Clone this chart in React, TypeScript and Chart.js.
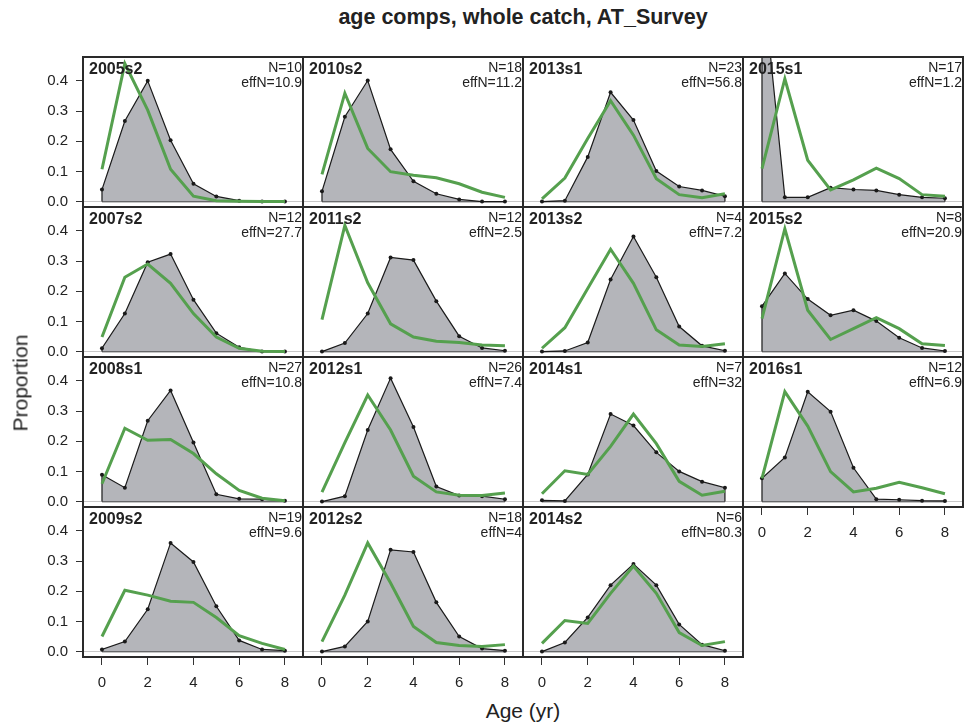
import React, { useEffect, useRef } from "react";
import { Chart, registerables } from "chart.js";
Chart.register(...registerables);

const ages = [0, 1, 2, 3, 4, 5, 6, 7, 8];
const xTicks = [0, 2, 4, 6, 8];
const yTicks = [0, 0.1, 0.2, 0.3, 0.4];

const panelLabels = ["2005s2", "2007s2", "2008s1", "2009s2", "2010s2", "2011s2", "2012s1", "2012s2", "2013s1", "2013s2", "2014s1", "2014s2", "2015s1", "2015s2", "2016s1"];
const sampleN = [10, 12, 27, 19, 18, 12, 26, 18, 23, 4, 7, 6, 17, 8, 12];
const effN = ["10.9", "27.7", "10.8", "9.6", "11.2", "2.5", "7.4", "4", "56.8", "7.2", "32", "80.3", "1.2", "20.9", "6.9"];

const obs_2005s2 = [0.04, 0.267, 0.4, 0.203, 0.059, 0.017, 0.003, 0, 0];
const exp_2005s2 = [0.107, 0.457, 0.303, 0.107, 0.018, 0.003, 0.001, 0, 0];
const obs_2007s2 = [0.011, 0.126, 0.296, 0.323, 0.172, 0.061, 0.014, 0, 0];
const exp_2007s2 = [0.048, 0.246, 0.29, 0.226, 0.126, 0.048, 0.011, 0.001, 0];
const obs_2008s1 = [0.089, 0.046, 0.268, 0.368, 0.196, 0.024, 0.009, 0.008, 0.003];
const exp_2008s1 = [0.059, 0.243, 0.203, 0.206, 0.159, 0.092, 0.037, 0.011, 0.003];
const obs_2009s2 = [0.007, 0.033, 0.14, 0.36, 0.297, 0.15, 0.037, 0.007, 0.003];
const exp_2009s2 = [0.05, 0.203, 0.187, 0.167, 0.163, 0.113, 0.053, 0.027, 0.007];
const obs_2010s2 = [0.034, 0.281, 0.401, 0.173, 0.067, 0.026, 0.007, 0, 0];
const exp_2010s2 = [0.09, 0.359, 0.176, 0.099, 0.087, 0.079, 0.059, 0.031, 0.014];
const obs_2011s2 = [0, 0.028, 0.126, 0.312, 0.303, 0.167, 0.051, 0.012, 0.003];
const exp_2011s2 = [0.106, 0.418, 0.228, 0.092, 0.048, 0.034, 0.03, 0.022, 0.019];
const obs_2012s1 = [0, 0.018, 0.237, 0.409, 0.247, 0.05, 0.02, 0.018, 0.008];
const exp_2012s1 = [0.031, 0.195, 0.353, 0.237, 0.084, 0.032, 0.021, 0.02, 0.028];
const obs_2012s2 = [0, 0.017, 0.1, 0.337, 0.33, 0.163, 0.05, 0.01, 0.003];
const exp_2012s2 = [0.033, 0.187, 0.36, 0.227, 0.083, 0.03, 0.02, 0.017, 0.023];
const obs_2013s1 = [0, 0.003, 0.148, 0.362, 0.27, 0.101, 0.05, 0.037, 0.018];
const exp_2013s1 = [0.009, 0.078, 0.209, 0.334, 0.22, 0.076, 0.023, 0.013, 0.026];
const obs_2013s2 = [0, 0.002, 0.03, 0.239, 0.381, 0.246, 0.083, 0.019, 0.003];
const exp_2013s2 = [0.011, 0.079, 0.209, 0.339, 0.226, 0.072, 0.022, 0.017, 0.026];
const obs_2014s1 = [0.004, 0.002, 0.09, 0.29, 0.252, 0.163, 0.1, 0.066, 0.046];
const exp_2014s1 = [0.026, 0.102, 0.09, 0.183, 0.29, 0.192, 0.067, 0.021, 0.034];
const obs_2014s2 = [0, 0.03, 0.113, 0.22, 0.29, 0.22, 0.09, 0.023, 0.003];
const exp_2014s2 = [0.027, 0.103, 0.093, 0.193, 0.283, 0.193, 0.063, 0.02, 0.033];
const obs_2015s1 = [0.76, 0.014, 0.014, 0.046, 0.04, 0.037, 0.023, 0.014, 0.011];
const exp_2015s1 = [0.109, 0.407, 0.137, 0.039, 0.072, 0.111, 0.076, 0.023, 0.018];
const obs_2015s2 = [0.15, 0.259, 0.174, 0.12, 0.137, 0.101, 0.046, 0.012, 0.002];
const exp_2015s2 = [0.109, 0.407, 0.137, 0.04, 0.076, 0.112, 0.076, 0.026, 0.02];
const obs_2016s1 = [0.077, 0.146, 0.364, 0.298, 0.112, 0.008, 0.006, 0.003, 0.002];
const exp_2016s1 = [0.077, 0.364, 0.25, 0.099, 0.032, 0.044, 0.064, 0.046, 0.026];

const observed = [obs_2005s2, obs_2007s2, obs_2008s1, obs_2009s2, obs_2010s2, obs_2011s2, obs_2012s1, obs_2012s2, obs_2013s1, obs_2013s2, obs_2014s1, obs_2014s2, obs_2015s1, obs_2015s2, obs_2016s1];
const expected = [exp_2005s2, exp_2007s2, exp_2008s1, exp_2009s2, exp_2010s2, exp_2011s2, exp_2012s1, exp_2012s2, exp_2013s1, exp_2013s2, exp_2014s1, exp_2014s2, exp_2015s1, exp_2015s2, exp_2016s1];

const FONT = "'Liberation Sans', Arial, Helvetica, sans-serif";
const TEXT = "#222222";
const GREEN = "#55a04e";
const FILL = "#b4b5ba";
const LINE = "#1a1a1a";

const PANEL_W = 220;
const PANEL_H = 150;
const ORIGIN_X = 83;
const ORIGIN_Y = 57;
const LEFT_AXIS = 83;
const BOTTOM_AXIS = 40;

const framePlugin = {
  id: "frame",
  afterDraw(chart: any) {
    const { ctx, chartArea: a } = chart;
    ctx.save();
    ctx.strokeStyle = "#2a2a2a";
    ctx.lineWidth = 2;
    ctx.strokeRect(a.left, a.top, a.right - a.left, a.bottom - a.top);
    ctx.restore();
  },
};

function geometry(idx: number) {
  const col = Math.floor(idx / 4);
  const row = idx % 4;
  const isLeft = col === 0;
  const isBottom = row === 3 || idx === panelLabels.length - 1;
  const left = ORIGIN_X + col * PANEL_W;
  const top = ORIGIN_Y + row * PANEL_H;
  return { col, row, isLeft, isBottom, left, top };
}

function Panel({ idx }: { idx: number }) {
  const ref = useRef<HTMLCanvasElement | null>(null);
  const g = geometry(idx);
  const padL = g.isLeft ? LEFT_AXIS : 2;
  const padB = g.isBottom ? BOTTOM_AXIS : 2;
  const cw = padL + PANEL_W + 2;
  const ch = 2 + PANEL_H + padB;

  useEffect(() => {
    const obs = observed[idx];
    const exp = expected[idx];
    const n = ages.length;
    const polygon = [
      { x: ages[0], y: 0 },
      ...ages.map((a, i) => ({ x: a, y: obs[i] })),
      { x: ages[n - 1], y: 0 },
    ];
    const baseline = [
      { x: ages[0], y: 0 },
      { x: ages[n - 1], y: 0 },
    ];
    const chart = new Chart(ref.current as HTMLCanvasElement, {
      type: "line",
      data: {
        datasets: [
          {
            label: "expected",
            data: ages.map((a, i) => ({ x: a, y: exp[i] })),
            borderColor: GREEN,
            borderWidth: 3,
            pointRadius: 0,
            fill: false,
            tension: 0,
            order: 0,
          } as any,
          {
            label: "observed",
            data: polygon,
            borderColor: LINE,
            borderWidth: 1.2,
            backgroundColor: FILL,
            fill: "origin",
            tension: 0,
            pointRadius: (c: any) => (c.dataIndex === 0 || c.dataIndex > n ? 0 : 2),
            pointBackgroundColor: LINE,
            pointBorderWidth: 0,
            order: 1,
          } as any,
          {
            label: "base",
            data: baseline,
            borderColor: LINE,
            borderWidth: 1.2,
            pointRadius: 0,
            fill: false,
            order: 2,
          } as any,
        ],
      },
      options: {
        animation: false,
        responsive: false,
        devicePixelRatio: 1,
        events: [],
        layout: {
          autoPadding: false,
          padding: { left: g.isLeft ? 0 : 2, right: 2, top: 2, bottom: g.isBottom ? 0 : 2 },
        },
        plugins: { legend: { display: false }, tooltip: { enabled: false }, title: { display: false }, filler: { propagate: false } },
        scales: {
          x: {
            type: "linear",
            min: -0.83,
            max: 8.79,
            display: g.isBottom,
            afterBuildTicks: (s: any) => {
              s.ticks = xTicks.map((v) => ({ value: v }));
            },
            afterFit: (s: any) => {
              s.height = g.isBottom ? BOTTOM_AXIS : 0;
              s.paddingLeft = 0;
              s.paddingRight = 0;
            },
            grid: { drawOnChartArea: false, drawTicks: true, tickLength: 8, tickColor: "#333333", tickWidth: 1 },
            border: { display: false },
            ticks: { font: { family: FONT, size: 15 }, color: TEXT, padding: 9, maxRotation: 0, autoSkip: false },
          },
          y: {
            type: "linear",
            min: -0.018,
            max: 0.479,
            afterBuildTicks: (s: any) => {
              s.ticks = yTicks.map((v) => ({ value: v }));
            },
            afterFit: (s: any) => {
              s.width = g.isLeft ? LEFT_AXIS : 0;
              s.paddingTop = 0;
              s.paddingBottom = 0;
            },
            grid: {
              color: (c: any) => (c.tick && c.tick.value === 0 ? "#c8c8c8" : "rgba(0,0,0,0)"),
              lineWidth: 1,
              drawTicks: g.isLeft,
              tickLength: 7,
              tickColor: "#333333",
            },
            border: { display: false },
            ticks: {
              display: g.isLeft,
              font: { family: FONT, size: 15 },
              color: TEXT,
              padding: 8,
              callback: (v: any) => Number(v).toFixed(1),
            },
          },
        },
      } as any,
      plugins: [framePlugin],
    });
    return () => chart.destroy();
  }, [idx]);

  return (
    <canvas
      ref={ref}
      width={cw}
      height={ch}
      style={{ position: "absolute", left: g.left - padL, top: g.top - 2, width: cw, height: ch }}
    />
  );
}

function textTop(baseline: number, size: number) {
  return baseline - 0.8465 * size;
}

function PanelText({ idx }: { idx: number }) {
  const g = geometry(idx);
  const right = 967 - (g.left + PANEL_W - 1);
  return (
    <>
      <div style={{ position: "absolute", left: g.left + 6, top: textTop(g.top + 18, 16), font: `bold 16px/16px ${FONT}`, color: TEXT, whiteSpace: "nowrap" }}>
        {panelLabels[idx]}
      </div>
      <div style={{ position: "absolute", right, top: textTop(g.top + 14.5, 14), font: `14px/14px ${FONT}`, color: TEXT, whiteSpace: "nowrap", textAlign: "right" }}>
        {`N=${sampleN[idx]}`}
      </div>
      <div style={{ position: "absolute", right, top: textTop(g.top + 29.7, 14), font: `14px/14px ${FONT}`, color: TEXT, whiteSpace: "nowrap", textAlign: "right" }}>
        {`effN=${effN[idx]}`}
      </div>
    </>
  );
}

export default function App() {
  return (
    <div style={{ position: "absolute", left: 0, top: 0, width: 967, height: 727, background: "#ffffff", overflow: "hidden" }}>
      {panelLabels.map((_, i) => (
        <Panel key={"p" + i} idx={i} />
      ))}
      {panelLabels.map((_, i) => (
        <PanelText key={"t" + i} idx={i} />
      ))}
      <div style={{ position: "absolute", left: 0, width: 1046, top: textTop(25, 21.5), font: `bold 21.5px/21.5px ${FONT}`, color: TEXT, textAlign: "center", whiteSpace: "nowrap" }}>
        age comps, whole catch, AT_Survey
      </div>
      <div style={{ position: "absolute", left: 0, width: 1046, top: textTop(718, 21), font: `21px/21px ${FONT}`, color: TEXT, textAlign: "center", whiteSpace: "nowrap" }}>
        Age (yr)
      </div>
      <div style={{ position: "absolute", left: 20, top: 383, font: `21px/21px ${FONT}`, color: TEXT, whiteSpace: "nowrap", transform: "translate(-50%, -50%) rotate(-90deg)" }}>
        Proportion
      </div>
    </div>
  );
}
